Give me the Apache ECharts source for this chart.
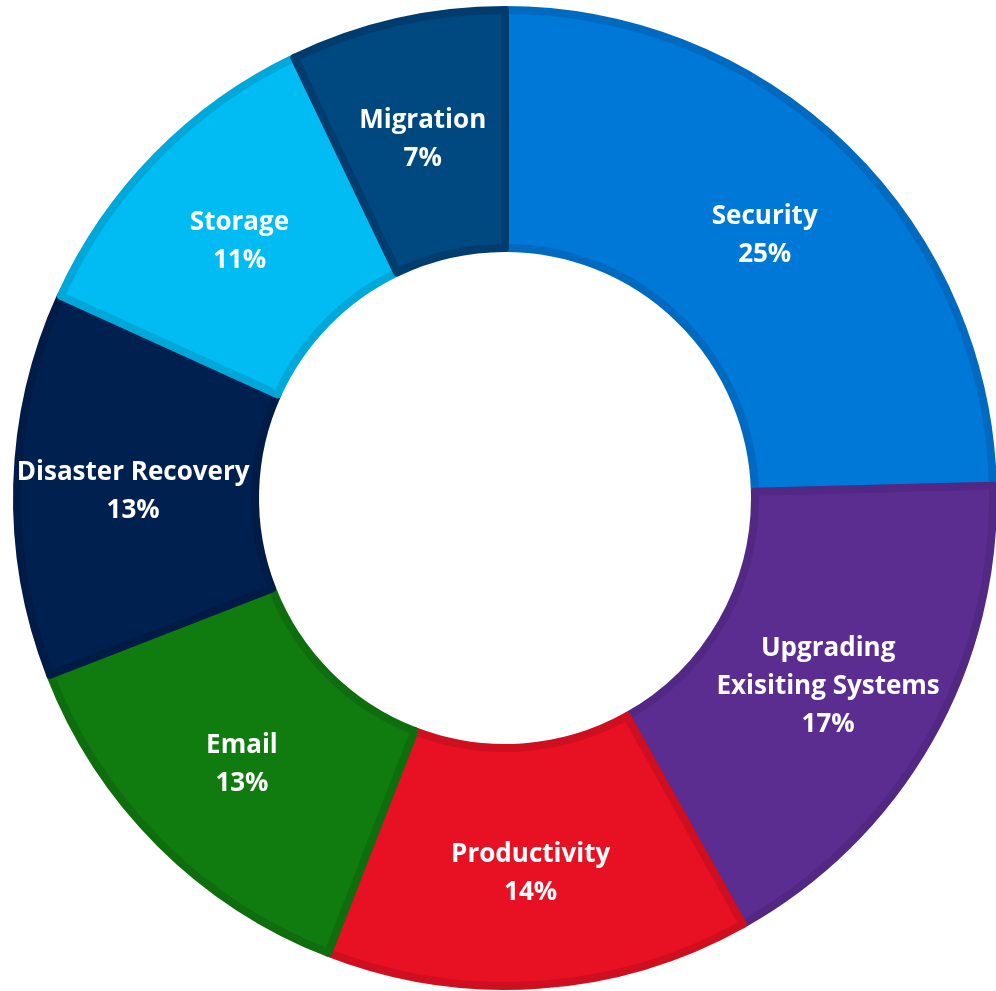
<!DOCTYPE html>
<html>
<head>
<meta charset="utf-8">
<script src="https://cdn.jsdelivr.net/npm/echarts@6/dist/echarts.min.js"></script>
<style>
  html, body { margin: 0; padding: 0; background: #ffffff; }
  #chart { width: 996px; height: 991px; }
</style>
</head>
<body>
<div id="chart"></div>
<script>
// categories and values (share of total)
const categories = [
  "Security",
  "Upgrading\nExisiting Systems",
  "Productivity",
  "Email",
  "Disaster Recovery",
  "Storage",
  "Migration",
];
const values = [24.6, 17.3, 14.0, 13.2, 12.7, 11.1, 7.1];

const fillColors = ["#0078D7", "#5C2D91", "#E81123", "#107C10", "#002050", "#00BCF2", "#004880"];
const borderColors = ["#006AC0", "#522884", "#CF0F20", "#0E6E0E", "#001B45", "#00A8DA", "#003D6E"];

const chartDom = document.getElementById("chart");
const chart = echarts.init(chartDom);

const option = {
  backgroundColor: "#ffffff",
  animation: false,
  series: [
    {
      type: "pie",
      center: [505, 498],
      radius: [250, 488],
      startAngle: 90,
      clockwise: true,
      avoidLabelOverlap: false,
      label: {
        show: true,
        position: "inside",
        color: "#ffffff",
        fontFamily: "Open Sans",
        fontWeight: "bold",
        fontSize: 26,
        lineHeight: 38,
        align: "center",
        offset: [0, 4],
        formatter: function (p) {
          return p.name + "\n" + Math.round(p.percent) + "%";
        },
      },
      labelLine: { show: false },
      emphasis: { disabled: true },
      data: categories.map((name, i) => ({
        name: name,
        value: values[i],
        itemStyle: {
          color: fillColors[i],
          borderColor: borderColors[i],
          borderWidth: 8,
        },
      })),
    },
  ],
};

chart.setOption(option);
</script>
</body>
</html>
